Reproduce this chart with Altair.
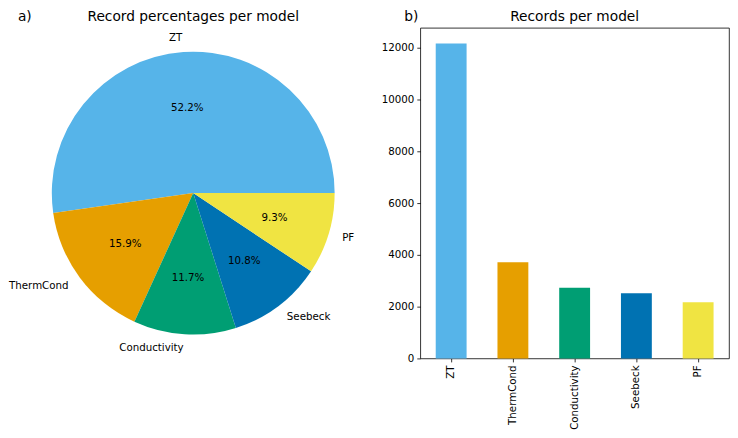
import math
import altair as alt
import pandas as pd

models = ["ZT", "ThermCond", "Conductivity", "Seebeck", "PF"]
counts = [12160, 3710, 2725, 2515, 2170]
colors = ["#56B4E9", "#E69F00", "#009E73", "#0072B2", "#F0E442"]
y_ticks = [0, 2000, 4000, 6000, 8000, 10000, 12000]

FONT = "DejaVu Sans"
FS = 10.3
TFS = 13.8
total = sum(counts)

# which side of the pie each outer label sits on (matplotlib style)
sides = []
cum = 0
for c in counts:
    mid = (cum + c / 2) / total * 2 * math.pi
    sides.append("left" if math.cos(mid) > 0 else "right")
    cum += c

df = pd.DataFrame({"model": models, "count": counts,
                   "idx": list(range(len(models))), "side": sides})

color_scale = alt.Scale(domain=models, range=colors)
R = 142
PW, PH = 366, 332
BW, BH = 310, 332

theta = alt.Theta("count:Q", stack=True,
                  scale=alt.Scale(range=[math.pi / 2, math.pi / 2 + 2 * math.pi]))
order = alt.Order("idx:Q", sort="descending")

base = alt.Chart(df).encode(theta=theta, order=order)

arcs = base.mark_arc(radius=R).encode(
    color=alt.Color("model:N", scale=color_scale, legend=None)
)

pct = base.transform_joinaggregate(tot="sum(count)").transform_calculate(
    pct="datum.count / datum.tot"
).mark_text(radius=0.6 * R, fontSize=FS, font=FONT, color="black").encode(
    text=alt.Text("pct:Q", format=".1%")
)

lab_left = base.mark_text(radius=1.1 * R, fontSize=FS, font=FONT, color="black",
                          align="left", baseline="middle").encode(
    text=alt.condition("datum.side == 'left'", alt.Text("model:N"), alt.value(""))
)
lab_right = base.mark_text(radius=1.1 * R, fontSize=FS, font=FONT, color="black",
                           align="right", baseline="middle").encode(
    text=alt.condition("datum.side == 'right'", alt.Text("model:N"), alt.value(""))
)

def label(txt, x, align):
    return alt.Chart(pd.DataFrame({"t": [txt]})).mark_text(
        align=align, baseline="bottom", fontSize=TFS, font=FONT, color="black"
    ).encode(text="t:N", x=alt.value(x), y=alt.value(-4))

pie = alt.layer(
    arcs, pct, lab_left, lab_right,
    label("a)", 7, "left"),
    label("Record percentages per model", PW / 2, "center"),
).properties(
    width=PW, height=PH,
    view=alt.ViewBackground(stroke="transparent"),
)

ymax = max(counts) * 1.05
axis_common = dict(title=None, labelFontSize=FS, labelColor="black", labelFont=FONT,
                   tickColor="black", tickSize=3.5, tickWidth=0.8, labelPadding=3,
                   domain=False, grid=False)
bars = alt.Chart(df).mark_bar().encode(
    x=alt.X("model:N", sort=models,
            scale=alt.Scale(paddingInner=0.5, paddingOuter=0.25),
            axis=alt.Axis(labelAngle=270, **axis_common)),
    y=alt.Y("count:Q", scale=alt.Scale(domain=[0, ymax], nice=False),
            axis=alt.Axis(values=y_ticks, format="d", **axis_common)),
    color=alt.Color("model:N", scale=color_scale, legend=None),
)

bar = alt.layer(
    bars,
    label("b)", -2, "right"),
    label("Records per model", BW / 2, "center"),
).properties(
    width=BW, height=BH,
    view=alt.ViewBackground(stroke="black", strokeWidth=0.8),
)

chart = alt.hconcat(pie, bar, spacing=4).properties(padding=0)

chart.save("out.html", embed_options={"renderer": "svg", "actions": False})
